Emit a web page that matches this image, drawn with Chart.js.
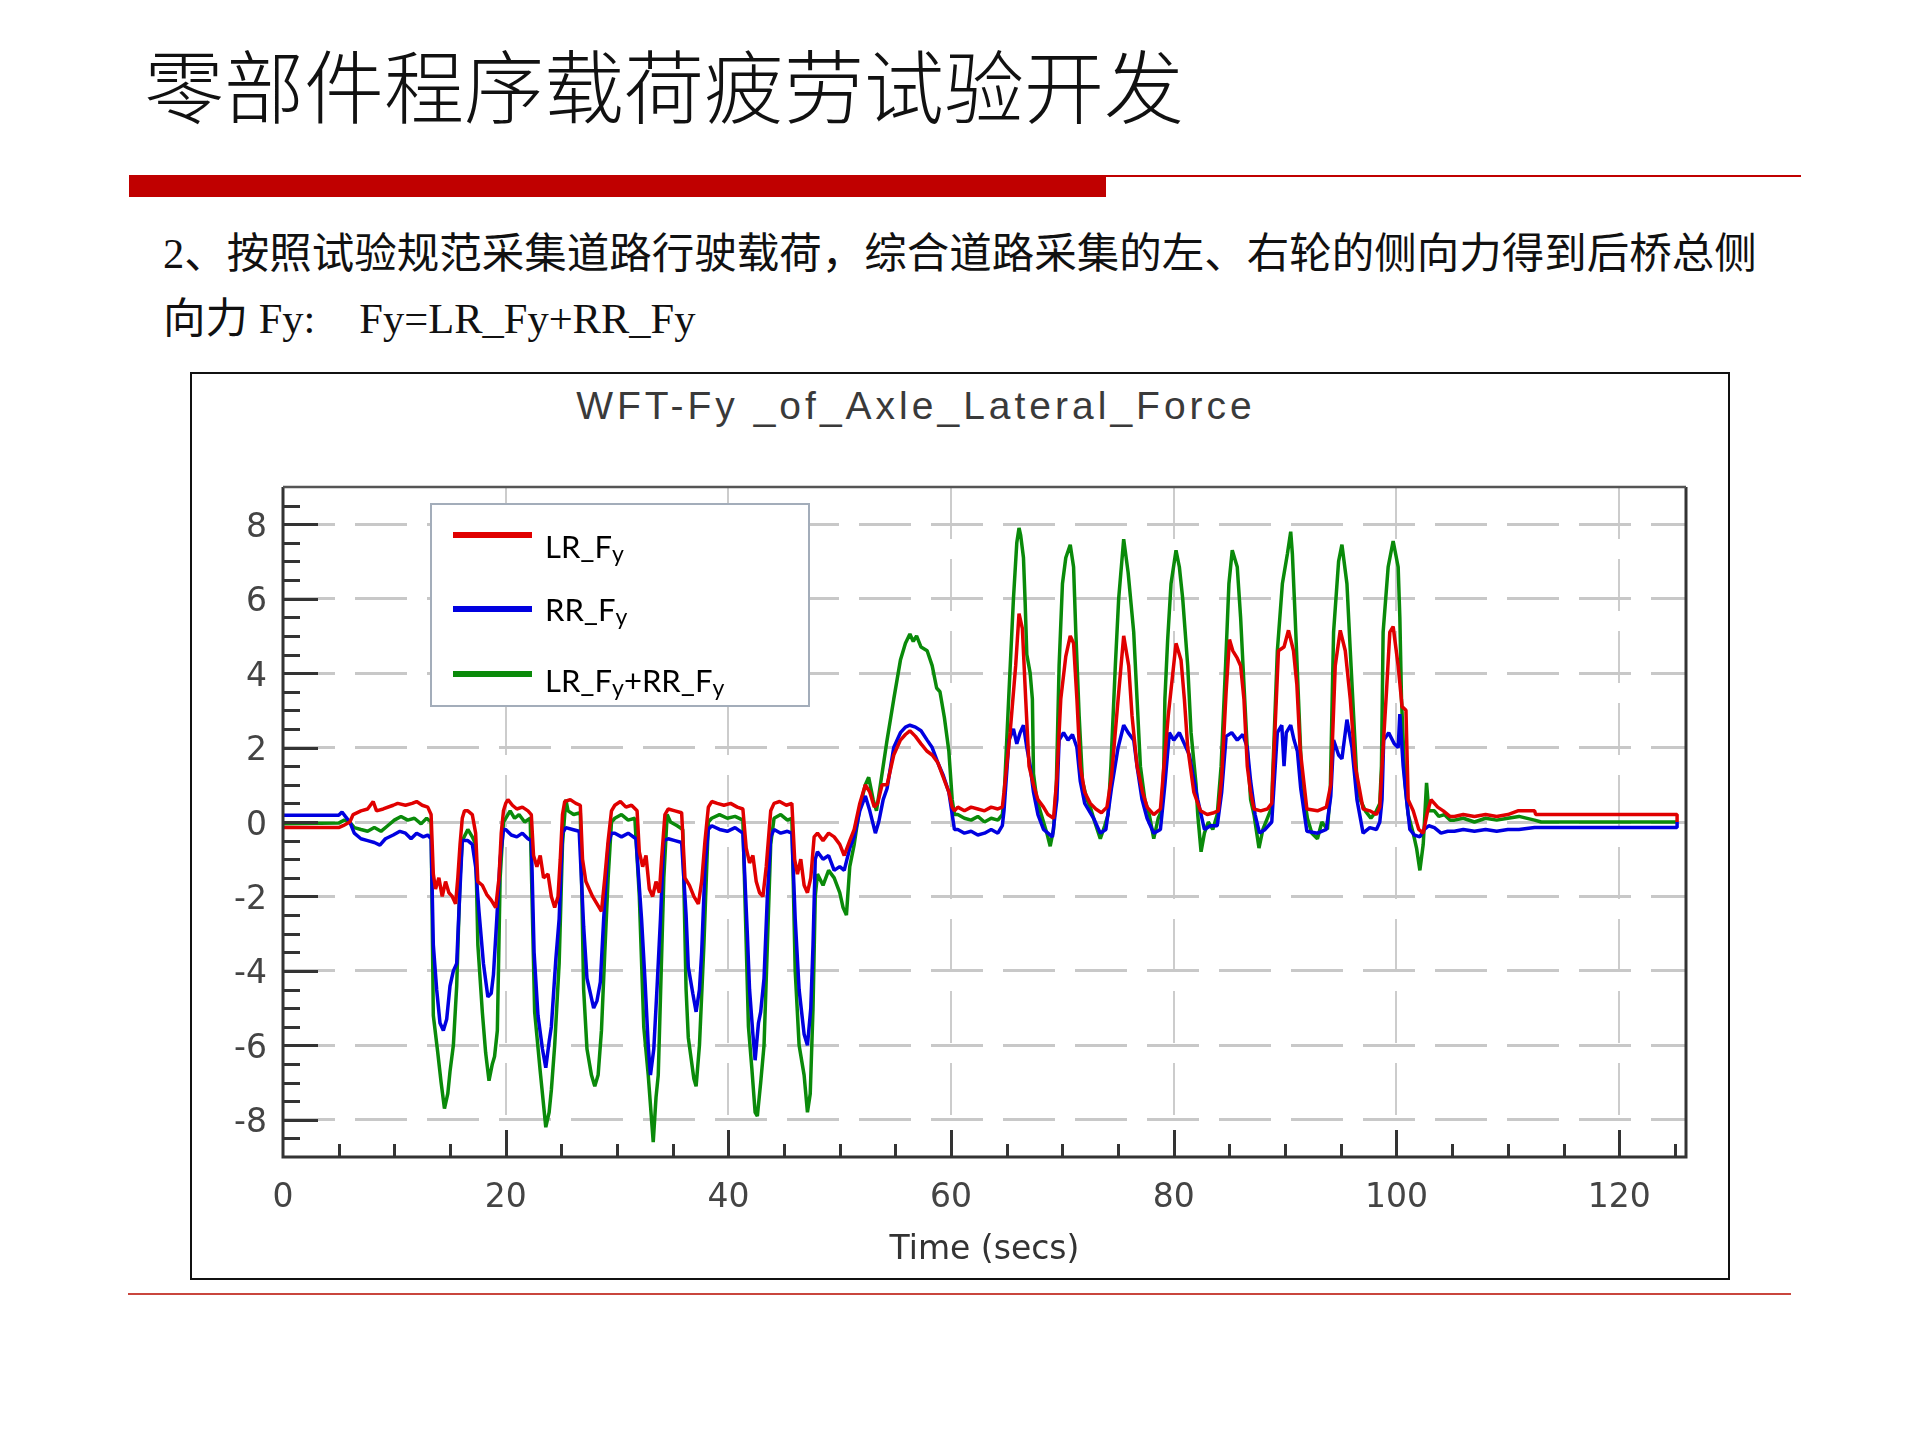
<!DOCTYPE html>
<html>
<head>
<meta charset="utf-8">
<title>WFT-Fy _of_Axle_Lateral_Force</title>
<script src="https://cdn.jsdelivr.net/npm/chart.js@4.4.1/dist/chart.umd.min.js"></script>
<style>
  body { margin: 0; background: #fff; }
  #page { position: relative; width: 1920px; height: 1440px; overflow: hidden; background: #fff; }
  .txt { position: absolute; white-space: pre; line-height: 1; color: #111; }
  #heading { left: 144px; top: 42px; font-family: "Noto Sans CJK SC", sans-serif; font-weight: 300; font-size: 80px; }
  .sub { left: 163px; font-family: "Liberation Serif", "Noto Sans CJK SC", serif; font-size: 42.5px; }
  #sub1 { top: 233px; }
  #sub2 { top: 298px; }
  #sub2 span { margin-left: 44px; }
  .bar { position: absolute; background: #c00000; }
  #box { position: absolute; left: 190px; top: 372px; width: 1536px; height: 904px; border: 2px solid #111; }
  #ctitle { position: absolute; left: 0; top: 12px; width: 1448px; text-align: center; font-family: "Liberation Sans", Arial, sans-serif; font-size: 39px; letter-spacing: 4px; color: #3a3a3a; line-height: 1; white-space: pre; }
  #chart { position: absolute; left: 0; top: 0; }
</style>
</head>
<body>
<div id="page">
  <div id="heading" class="txt">零部件程序载荷疲劳试验开发</div>
  <div class="bar" style="left:129px;top:175px;width:977px;height:22px;"></div>
  <div class="bar" style="left:1106px;top:175px;width:695px;height:2px;"></div>
  <div id="sub1" class="txt sub">2、按照试验规范采集道路行驶载荷，综合道路采集的左、右轮的侧向力得到后桥总侧</div>
  <div id="sub2" class="txt sub">向力 Fy:<span>Fy=LR_Fy+RR_Fy</span></div>
  <div id="box">
    <div id="ctitle">WFT-Fy _of_Axle_Lateral_Force</div>
    <canvas id="chart" width="1536" height="904"></canvas>
  </div>
  <div class="bar" style="left:128px;top:1293px;width:1663px;height:2px;background:#c9463d;"></div>
</div>

<script>
// axis ticks
const xTicks = [0, 20, 40, 60, 80, 100, 120];
const yTicks = [-8, -6, -4, -2, 0, 2, 4, 6, 8];

const seriesNames = ['LR_Fy', 'RR_Fy', 'LR_Fy+RR_Fy'];
const seriesColors = ['#e00000', '#0000e0', '#0a8a0a'];

// [time s, force]
const lrFy = [
  [0,-0.15],[5.0,-0.15],[5.4,-0.1],[6.0,0.0],[6.3,0.2],[7.0,0.3],[7.6,0.35],[8.1,0.55],[8.4,0.3],[9.0,0.35],[9.9,0.45],[10.3,0.5],[11.0,0.45],[11.6,0.5],[12.0,0.55],[12.5,0.45],[13.0,0.4],[13.3,0.2],
  [13.5,-1.4],[13.7,-1.8],[14.0,-1.5],[14.3,-2.0],[14.6,-1.6],[14.9,-1.9],[15.2,-2.0],[15.5,-2.2],[15.7,-1.5],[15.9,-0.6],[16.1,0.1],[16.3,0.3],[16.6,0.3],[17.0,0.2],[17.3,-0.3],
  [17.5,-1.6],[17.9,-1.7],[18.3,-1.95],[18.7,-2.1],[19.1,-2.3],[19.4,-1.5],[19.6,-0.3],[19.8,0.3],
  [20.0,0.5],[20.2,0.6],[20.6,0.45],[21.0,0.35],[21.5,0.4],[22.0,0.3],[22.3,0.2],
  [22.5,-0.9],[22.8,-1.2],[23.1,-0.9],[23.4,-1.5],[23.8,-1.4],[24.1,-2.0],[24.4,-2.3],[24.7,-2.0],[24.9,-1.0],[25.1,0.2],
  [25.3,0.55],[25.8,0.6],[26.3,0.5],[26.7,0.45],
  [26.9,-1.0],[27.2,-1.6],[27.5,-1.8],[27.8,-2.0],[28.2,-2.2],[28.6,-2.4],[28.9,-1.5],[29.2,-0.5],[29.5,0.3],
  [29.8,0.45],[30.3,0.55],[30.8,0.4],[31.3,0.45],[31.8,0.3],
  [32.0,-0.8],[32.3,-1.2],[32.6,-0.9],[32.9,-1.8],[33.2,-2.0],[33.5,-1.6],[33.8,-1.9],[34.0,-1.0],[34.3,0.2],
  [34.6,0.35],[35.2,0.3],[35.8,0.25],
  [36.1,-1.5],[36.5,-1.7],[36.9,-2.0],[37.3,-2.2],[37.6,-1.6],[37.9,-0.5],[38.2,0.4],
  [38.5,0.55],[39.0,0.5],[39.6,0.45],[40.2,0.5],[40.8,0.4],[41.3,0.35],
  [41.6,-0.7],[41.9,-1.1],[42.2,-0.9],[42.5,-1.6],[42.8,-1.9],[43.1,-2.0],[43.4,-1.2],[43.8,0.3],
  [44.1,0.5],[44.6,0.55],[45.2,0.45],[45.7,0.5],
  [45.95,-1.0],[46.2,-1.4],[46.5,-1.0],[46.8,-1.7],[47.1,-1.9],[47.4,-1.5],[47.7,-0.4],
  [48.0,-0.3],[48.5,-0.5],[49.0,-0.3],[49.5,-0.4],[50.0,-0.6],[50.4,-0.9],[50.9,-0.5],[51.3,-0.2],[51.8,0.5],[52.3,1.0],[52.7,0.8],[53.1,0.4],[53.4,0.5],[53.8,1.0],
  [54.25,1.0],[54.85,1.8],[55.45,2.2],[55.9,2.35],[56.3,2.45],[56.8,2.3],[57.3,2.1],[57.85,1.9],[58.3,1.8],[58.8,1.6],[59.3,1.2],[59.8,0.8],[60.1,0.4],[60.3,0.3],
  [60.6,0.4],[61.2,0.3],[61.8,0.4],[62.4,0.35],[63.0,0.3],[63.6,0.4],[64.2,0.35],[64.6,0.4],
  [64.75,0.8],[65.3,2.4],[65.8,4.2],[66.1,5.6],[66.4,5.2],[66.7,3.3],[67.0,1.5],[67.4,1.0],[67.8,0.6],[68.3,0.4],[68.7,0.2],[69.2,0.1],
  [69.5,1.2],[69.85,3.3],[70.3,4.45],[70.7,5.0],[71.0,4.8],[71.3,3.3],[71.6,1.5],[72.0,0.8],[72.5,0.5],[73.0,0.35],[73.5,0.25],[74.0,0.4],
  [74.4,1.2],[75.0,3.3],[75.5,5.0],[75.95,4.2],[76.25,2.85],[76.7,1.5],[77.2,0.8],[77.6,0.4],[78.2,0.2],[78.8,0.35],
  [79.2,1.8],[79.5,2.85],[80.2,4.8],[80.65,4.35],[80.95,3.3],[81.25,2.0],[81.8,0.8],[82.4,0.3],[83.0,0.2],[83.6,0.25],[84.0,0.3],
  [84.3,1.2],[84.7,3.5],[85.0,4.9],[85.3,4.6],[85.7,4.4],[86.0,4.2],[86.3,3.3],[86.6,1.5],[86.9,0.8],[87.2,0.35],[87.8,0.3],[88.4,0.35],[88.8,0.5],
  [88.9,1.2],[89.4,4.6],[89.9,4.7],[90.3,5.15],[90.75,4.6],[91.05,3.7],[91.35,1.95],[91.95,0.35],[92.9,0.3],[93.7,0.4],
  [94.1,1.0],[94.5,4.2],[94.95,5.15],[95.4,4.6],[95.85,3.3],[96.3,1.5],[97.0,0.35],[97.6,0.3],[98.2,0.2],[98.5,0.4],
  [98.7,1.5],[99.1,3.5],[99.4,5.1],[99.7,5.25],[100.15,4.2],[100.5,3.1],[100.85,3.0],[101.05,0.6],[101.5,0.3],[102.0,-0.2],[102.4,-0.3],[102.8,0.3],[103.1,0.6],[103.7,0.4],[104.2,0.3],[104.8,0.15],
  [105.2,0.15],[106,0.2],[107,0.15],[108,0.2],[109,0.15],[110,0.2],[110.9,0.3],[112.4,0.3],[112.5,0.2],[125.2,0.2],[125.2,0.0]
];

const rrFy = [
  [0,0.18],[5.0,0.18],[5.3,0.27],[5.6,0.15],[6.0,0.0],[6.4,-0.3],[7.0,-0.45],[7.6,-0.5],[8.2,-0.55],[8.7,-0.62],[9.2,-0.45],[9.9,-0.35],[10.5,-0.25],[11.0,-0.3],[11.5,-0.45],[12.0,-0.3],[12.6,-0.4],[13.0,-0.35],[13.3,-0.45],
  [13.5,-3.3],[13.8,-4.5],[14.1,-5.4],[14.4,-5.6],[14.7,-5.3],[15.0,-4.4],[15.3,-4.0],[15.6,-3.8],[15.8,-2.4],[16.1,-0.5],[16.6,-0.5],[17.0,-0.6],[17.3,-1.2],
  [17.6,-2.4],[18.0,-3.8],[18.4,-4.7],[18.7,-4.6],[18.9,-4.1],[19.2,-2.6],[19.5,-1.0],[19.8,-0.2],
  [20.0,-0.2],[20.5,-0.35],[21.0,-0.4],[21.5,-0.3],[22.0,-0.45],[22.3,-0.5],
  [22.55,-3.5],[22.9,-5.2],[23.3,-6.1],[23.6,-6.6],[23.9,-5.9],[24.1,-5.5],[24.5,-3.7],[24.8,-2.6],[25.1,-0.3],
  [25.4,-0.15],[26.0,-0.2],[26.6,-0.25],
  [27.0,-2.8],[27.3,-4.2],[27.6,-4.6],[27.9,-5.0],[28.2,-4.8],[28.5,-4.3],[28.8,-2.6],[29.2,-0.6],[29.5,-0.3],
  [29.8,-0.3],[30.4,-0.4],[31.0,-0.3],[31.7,-0.45],
  [32.2,-2.6],[32.5,-4.2],[32.8,-6.0],[33.0,-6.8],[33.3,-6.1],[33.6,-4.4],[33.9,-2.6],[34.2,-0.5],
  [34.6,-0.45],[35.2,-0.5],[35.8,-0.55],
  [36.2,-2.5],[36.4,-3.9],[36.8,-4.6],[37.1,-5.1],[37.4,-4.5],[37.6,-3.5],[37.9,-1.2],[38.2,-0.2],
  [38.5,-0.1],[39.2,-0.2],[39.9,-0.25],[40.6,-0.15],[41.3,-0.3],
  [41.7,-3.0],[41.9,-4.5],[42.2,-5.7],[42.4,-6.4],[42.7,-5.4],[42.9,-5.1],[43.2,-4.2],[43.5,-2.0],[43.8,-0.4],
  [44.1,-0.2],[44.7,-0.3],[45.3,-0.25],[45.7,-0.3],
  [46.0,-2.6],[46.35,-4.5],[46.8,-5.7],[47.1,-6.0],[47.4,-5.0],[47.6,-3.3],[47.8,-1.0],
  [48.0,-0.8],[48.5,-1.0],[49.0,-0.9],[49.5,-1.3],[50.0,-1.2],[50.4,-1.3],[50.9,-0.7],[51.3,-0.4],[51.8,0.3],[52.3,0.7],[52.7,0.3],[53.2,-0.3],[53.5,0.0],[53.9,0.6],
  [54.25,0.9],[54.85,2.0],[55.45,2.4],[55.9,2.55],[56.3,2.6],[56.8,2.55],[57.3,2.45],[57.85,2.2],[58.3,2.0],[58.8,1.6],[59.3,1.25],[59.8,0.8],[60.1,0.2],[60.3,-0.2],
  [60.6,-0.2],[61.2,-0.3],[61.8,-0.25],[62.4,-0.35],[63.0,-0.3],[63.6,-0.2],[64.2,-0.3],[64.6,-0.1],
  [64.75,0.3],[65.2,2.2],[65.6,2.5],[65.9,2.1],[66.2,2.4],[66.5,2.6],[66.8,2.0],[67.1,1.5],[67.4,0.8],[67.8,0.2],[68.3,-0.2],[68.7,-0.3],[69.1,-0.4],
  [69.5,0.6],[69.7,2.2],[70.1,2.4],[70.5,2.2],[70.9,2.35],[71.3,2.0],[71.6,1.1],[72.0,0.5],[72.8,0.1],[73.4,-0.3],[73.9,-0.2],
  [74.4,0.9],[75.0,2.0],[75.5,2.6],[75.9,2.4],[76.4,2.2],[76.7,1.5],[77.15,0.6],[77.6,0.1],[78.2,-0.3],[78.8,-0.2],
  [79.2,1.0],[79.6,2.4],[80.0,2.2],[80.5,2.4],[80.95,2.1],[81.4,1.8],[81.7,1.3],[82.15,0.6],[82.75,-0.2],[83.3,-0.1],[83.9,-0.1],
  [84.3,0.8],[84.7,2.3],[85.2,2.4],[85.7,2.2],[86.2,2.35],[86.6,2.0],[86.9,1.1],[87.3,0.2],[87.7,-0.3],[88.2,-0.2],[88.8,0.0],
  [88.9,0.5],[89.3,2.4],[89.7,2.6],[89.9,1.5],[90.1,2.4],[90.5,2.6],[90.8,2.2],[91.1,1.9],[91.4,0.9],[91.95,-0.25],[92.9,-0.3],[93.7,-0.2],
  [94.1,0.7],[94.35,2.2],[94.8,1.8],[95.1,1.7],[95.55,2.75],[96.0,2.0],[96.45,0.6],[97.0,-0.3],[97.6,-0.15],[98.2,-0.2],[98.5,0.0],
  [98.7,0.6],[98.85,2.2],[99.3,2.4],[99.8,2.1],[100.15,2.0],[100.3,2.9],[100.6,1.5],[100.9,0.6],[101.2,-0.2],[101.6,-0.35],[102.1,-0.4],[102.5,-0.2],[102.9,-0.1],[103.4,-0.15],[104.0,-0.3],[104.6,-0.25],
  [105.2,-0.25],[106,-0.2],[107,-0.25],[108,-0.2],[109,-0.25],[110,-0.2],[111,-0.2],[112.4,-0.15],[125.2,-0.15],[125.2,0.0]
];

const sumFy = [
  [0,-0.05],[5.0,-0.03],[5.5,0.05],[6.0,0.0],[6.4,-0.15],[7.0,-0.2],[7.6,-0.25],[8.2,-0.15],[8.8,-0.25],[9.4,-0.1],[10.0,0.05],[10.6,0.15],[11.2,0.05],[11.8,0.1],[12.4,-0.05],[12.9,0.1],[13.3,0.0],
  [13.5,-5.2],[13.9,-6.2],[14.2,-7.0],[14.5,-7.7],[14.8,-7.3],[15.0,-6.7],[15.3,-6.0],[15.6,-4.4],[15.9,-1.5],[16.1,-0.5],[16.6,-0.2],[17.0,-0.4],[17.3,-0.6],
  [17.5,-3.3],[17.9,-5.1],[18.2,-6.2],[18.5,-6.95],[18.8,-6.5],[19.0,-6.3],[19.25,-5.6],[19.5,-1.5],[19.8,0.0],
  [20.0,0.1],[20.4,0.3],[20.8,0.1],[21.2,0.2],[21.7,0.0],[22.2,0.1],
  [22.6,-5.1],[23.1,-6.7],[23.6,-8.2],[23.9,-7.8],[24.1,-7.2],[24.4,-6.0],[24.8,-3.8],[25.1,-0.6],[25.4,0.6],
  [25.6,0.3],[26.1,0.2],[26.7,0.25],
  [27.0,-4.5],[27.3,-6.1],[27.7,-6.8],[28.0,-7.1],[28.3,-6.8],[28.6,-5.6],[28.9,-3.5],[29.2,-1.5],[29.5,0.0],
  [29.8,0.1],[30.4,0.2],[31.0,0.05],[31.6,0.1],
  [32.0,-2.0],[32.4,-5.5],[32.8,-6.8],[33.1,-8.0],[33.25,-8.6],[33.5,-7.4],[33.7,-6.8],[33.9,-4.7],[34.2,-1.5],[34.5,0.2],
  [34.8,0.0],[35.4,-0.1],[35.9,-0.2],
  [36.2,-4.5],[36.4,-5.8],[36.9,-6.9],[37.1,-7.1],[37.4,-6.0],[37.8,-3.3],[38.2,0.0],
  [38.5,0.1],[39.2,0.2],[39.9,0.1],[40.6,0.15],[41.3,0.05],
  [41.8,-5.5],[42.1,-6.6],[42.4,-7.8],[42.6,-7.9],[42.9,-7.0],[43.2,-6.0],[43.5,-3.3],[43.8,-0.6],
  [44.1,0.1],[44.7,0.2],[45.3,0.05],[45.7,0.1],
  [46.0,-4.0],[46.35,-6.0],[46.8,-6.8],[47.1,-7.8],[47.35,-7.3],[47.6,-5.0],[47.8,-2.0],
  [48.0,-1.4],[48.5,-1.7],[49.0,-1.3],[49.5,-1.5],[50.0,-1.9],[50.3,-2.3],[50.6,-2.5],[50.9,-1.2],[51.3,-0.6],[51.8,0.4],[52.3,1.0],[52.6,1.2],[53.0,0.6],[53.3,0.3],[53.7,1.1],
  [54.25,2.2],[54.85,3.3],[55.45,4.35],[55.9,4.8],[56.3,5.05],[56.6,4.85],[56.9,5.0],[57.3,4.7],[57.85,4.6],[58.3,4.2],[58.7,3.6],[59.0,3.5],[59.4,2.8],[59.8,1.9],[60.1,0.6],[60.3,0.2],
  [60.6,0.2],[61.2,0.1],[61.8,0.05],[62.4,0.15],[63.0,0.0],[63.6,0.1],[64.2,0.05],[64.6,0.2],
  [64.75,0.6],[65.2,3.5],[65.6,6.0],[65.9,7.5],[66.1,7.9],[66.25,7.7],[66.5,7.1],[66.65,5.9],[66.8,4.5],[67.1,4.0],[67.3,3.3],[67.4,1.3],[67.7,0.6],[68.0,0.3],[68.3,0.0],[68.6,-0.3],[68.9,-0.65],[69.2,-0.2],
  [69.45,1.0],[69.7,4.2],[70.0,6.4],[70.3,7.1],[70.7,7.45],[71.0,6.85],[71.2,5.1],[71.5,2.85],[71.8,1.1],[72.2,0.6],[72.5,0.4],[72.9,0.0],[73.4,-0.45],[73.8,-0.1],[74.1,0.2],
  [74.35,1.5],[74.75,4.2],[75.05,6.0],[75.5,7.6],[75.9,6.7],[76.4,5.1],[76.7,3.3],[77.0,1.5],[77.4,0.6],[77.8,0.2],[78.2,-0.45],[78.6,0.1],[78.9,0.3],
  [79.1,1.5],[79.2,3.3],[79.45,4.9],[79.75,6.4],[80.2,7.3],[80.5,6.85],[80.8,6.0],[81.25,4.2],[81.55,2.4],[82.0,1.0],[82.15,0.2],[82.45,-0.8],[82.75,-0.3],[83.1,0.0],[83.5,-0.2],[83.9,0.2],
  [84.25,1.5],[84.65,4.2],[84.95,6.4],[85.25,7.3],[85.7,6.85],[86.0,5.5],[86.3,3.7],[86.6,1.95],[86.9,0.6],[87.2,0.2],[87.65,-0.7],[88.0,-0.2],[88.4,0.1],[88.8,0.4],
  [88.85,1.0],[89.3,4.6],[89.75,6.4],[90.2,7.2],[90.5,7.8],[90.65,7.2],[90.9,5.5],[91.2,3.3],[91.5,1.1],[92.0,0.1],[92.4,-0.3],[92.9,-0.45],[93.3,0.0],[93.8,-0.2],
  [94.05,0.8],[94.35,5.1],[94.8,7.0],[95.1,7.45],[95.55,6.4],[95.85,4.6],[96.15,2.85],[96.45,1.1],[96.75,0.6],[97.2,0.3],[97.7,0.1],[98.2,0.3],[98.5,0.5],
  [98.65,1.5],[98.8,5.1],[99.25,6.85],[99.7,7.55],[100.15,6.85],[100.3,5.5],[100.45,3.3],[100.75,1.1],[101.05,0.2],[101.5,-0.3],[101.8,-0.7],[102.1,-1.3],[102.4,-0.6],[102.7,1.05],[102.9,0.3],[103.4,0.3],[103.8,0.15],[104.3,0.2],[104.8,0.05],
  [105.2,0.05],[106,0.1],[107,0.0],[108,0.1],[109,0.05],[110,0.1],[111,0.15],[112.4,0.05],[113,0.0],[125.2,0.0]
];

const seriesData = [lrFy, rrFy, sumFy];

// inward major/minor ticks and the plot frame
const frameTicks = {
  id: 'frameTicks',
  afterDatasetsDraw(chart) {
    const { ctx, chartArea: a, scales: { x, y } } = chart;
    ctx.save();
    ctx.strokeStyle = '#333';
    ctx.lineWidth = 3;
    ctx.beginPath();
    for (let v = y.min + 0.5; v < y.max; v += 0.5) {
      const py = Math.round(y.getPixelForValue(v)) + 0.5;
      const len = yTicks.includes(v) ? 35 : 17;
      ctx.moveTo(a.left, py);
      ctx.lineTo(a.left + len, py);
    }
    for (let t = 5; t < x.max; t += 5) {
      const px = Math.round(x.getPixelForValue(t)) + 0.5;
      const len = xTicks.includes(t) ? 27 : 13;
      ctx.moveTo(px, a.bottom);
      ctx.lineTo(px, a.bottom - len);
    }
    ctx.stroke();

    ctx.beginPath();
    ctx.moveTo(a.left, a.top);
    ctx.lineTo(a.left, a.bottom);
    ctx.lineTo(a.right, a.bottom);
    ctx.lineTo(a.right, a.top);
    ctx.stroke();
    ctx.strokeStyle = '#555';
    ctx.lineWidth = 2.5;
    ctx.beginPath();
    ctx.moveTo(a.left, a.top);
    ctx.lineTo(a.right, a.top);
    ctx.stroke();
    ctx.restore();
  }
};

// legend with subscript y
const subLegend = {
  id: 'subLegend',
  afterDraw(chart) {
    const { ctx, chartArea: a } = chart;
    const bx = a.left + 148, by = a.top + 17, bw = 378, bh = 202;
    const lineOff = [31, 105, 170];
    const textOff = [54, 117, 188];
    ctx.save();
    ctx.fillStyle = '#fff';
    ctx.fillRect(bx, by, bw, bh);
    ctx.strokeStyle = '#a3adba';
    ctx.lineWidth = 2;
    ctx.strokeRect(bx, by, bw, bh);
    chart.data.datasets.forEach((ds, i) => {
      ctx.strokeStyle = ds.borderColor;
      ctx.lineWidth = 6;
      ctx.beginPath();
      ctx.moveTo(bx + 22, by + lineOff[i]);
      ctx.lineTo(bx + 101, by + lineOff[i]);
      ctx.stroke();
      let tx = bx + 114;
      const ty = by + textOff[i];
      ctx.fillStyle = '#000';
      ctx.textBaseline = 'alphabetic';
      const label = ds.label;
      for (let k = 0; k < label.length; k++) {
        const ch = label[k];
        const isSub = ch === 'y' && label[k - 1] === 'F';
        ctx.font = isSub ? '23px Lato' : '31px Lato';
        ctx.fillText(ch, tx, isSub ? ty + 4 : ty);
        tx += ctx.measureText(ch).width;
      }
    });
    ctx.restore();
  }
};

const tickFont = { family: 'DejaVu Sans', size: 33 };

new Chart(document.getElementById('chart'), {
  type: 'line',
  data: {
    datasets: seriesNames.map((name, i) => ({
      label: name,
      data: seriesData[i].map(([t, v]) => ({ x: t, y: v })),
      borderColor: seriesColors[i],
      borderWidth: 3.5,
      borderJoinStyle: 'bevel',
      pointRadius: 0,
      fill: false,
      tension: 0
    }))
  },
  options: {
    responsive: false,
    animation: false,
    events: [],
    layout: { padding: { left: 0, top: 113, right: 42, bottom: 0 } },
    plugins: {
      legend: { display: false },
      tooltip: { enabled: false },
      title: { display: false }
    },
    scales: {
      x: {
        type: 'linear',
        min: 0,
        max: 126,
        afterBuildTicks: s => { s.ticks = xTicks.map(v => ({ value: v })); },
        afterFit: s => { s.height = 121; },
        ticks: { font: tickFont, color: '#444', padding: 22, maxRotation: 0, autoSkip: false },
        grid: { color: '#cccccc', lineWidth: 2, drawTicks: false },
        border: { display: false, dash: [52, 20] },
        title: { display: true, text: 'Time (secs)', font: tickFont, color: '#333', padding: { top: 0, bottom: 8 } }
      },
      y: {
        type: 'linear',
        min: -9,
        max: 9,
        afterBuildTicks: s => { s.ticks = yTicks.map(v => ({ value: v })); },
        afterFit: s => { s.width = 91; },
        ticks: { font: tickFont, color: '#444', padding: 16, labelOffset: 4 },
        grid: { color: '#c8c8c8', lineWidth: 3, drawTicks: false },
        border: { display: false, dash: [52, 20] }
      }
    }
  },
  plugins: [frameTicks, subLegend]
});
</script>
</body>
</html>
